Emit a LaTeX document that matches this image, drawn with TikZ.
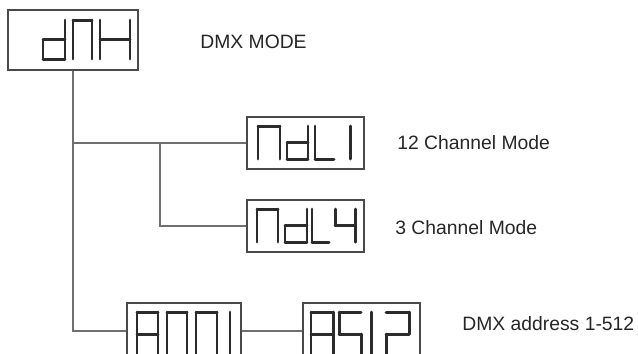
\documentclass[tikz,border=0pt]{standalone}
\usepackage{fontspec}
\setmainfont{Liberation Sans}

\definecolor{linegray}{HTML}{707070}
\definecolor{boxgray}{HTML}{4A4A4A}
\definecolor{segdark}{HTML}{2B2B2B}

% seven segment display glyph: x, top y, width, height, segments
\newcommand{\lcdglyph}[5]{%
    \def\gx{#1}\def\gt{#2}\def\gw{#3}\def\gh{#4}%
    \foreach \s in {#5}{\csname lcdseg\s\endcsname}%
}
\newcommand{\lcdsega}{\draw[seg] (\gx,\gt) -- ++(\gw,0);}
\newcommand{\lcdsegb}{\draw[seg] (\gx+\gw,\gt) -- ++(0,\gh/2);}
\newcommand{\lcdsegc}{\draw[seg] (\gx+\gw,\gt+\gh/2) -- ++(0,\gh/2);}
\newcommand{\lcdsegd}{\draw[seg] (\gx,\gt+\gh) -- ++(\gw,0);}
\newcommand{\lcdsege}{\draw[seg] (\gx,\gt+\gh/2) -- ++(0,\gh/2);}
\newcommand{\lcdsegf}{\draw[seg] (\gx,\gt) -- ++(0,\gh/2);}
\newcommand{\lcdsegg}{\draw[seg] (\gx,\gt+\gh/2) -- ++(\gw,0);}

\begin{document}
\begin{tikzpicture}[
    x=0.02cm,
    y=-0.02cm,
    lcd/.style={
        rectangle,
        draw=boxgray,
        line width=1pt,
        inner sep=0pt
    },
    seg/.style={
        draw=segdark,
        line width=1.7pt,
        line cap=round
    },
    note/.style={
        anchor=west,
        inner sep=0pt,
        text=black!85,
        font=\fontsize{11}{13}\selectfont
    },
    link/.style={
        draw=linegray,
        line width=0.7pt
    }
]
\useasboundingbox (0,0) rectangle (638,353);

\node[lcd, minimum width=2.6cm, minimum height=1.2cm] (mode) at (73,40) {};
\node[lcd, minimum width=2.34cm, minimum height=1.04cm] (ch12) at (305.5,143) {};
\node[lcd, minimum width=2.34cm, minimum height=1.04cm] (ch3) at (305.5,226) {};
\node[lcd, minimum width=2.28cm, minimum height=1.12cm] (addr1) at (184,331) {};
\node[lcd, minimum width=2.34cm, minimum height=1.12cm] (addr2) at (361.5,331) {};

% dNH
\lcdglyph{43}{20}{22}{39}{b,c,d,e,g}
\lcdglyph{73}{20}{19}{39}{a,b,c,e,f}
\lcdglyph{100}{20}{30}{39}{b,c,e,f,g}

% NdL1
\lcdglyph{258}{126}{22}{33}{a,b,c,e,f}
\lcdglyph{287}{126}{21}{33}{b,c,d,e,g}
\lcdglyph{315}{126}{19}{33}{d,e,f}
\lcdglyph{350}{126}{0}{33}{b,c}

% NdL4
\lcdglyph{257}{209}{21}{33}{a,b,c,e,f}
\lcdglyph{285}{209}{22}{33}{b,c,d,e,g}
\lcdglyph{312}{209}{17}{33}{d,e,f}
\lcdglyph{335}{209}{20}{33}{b,c,f,g}

% A001
\lcdglyph{137}{312}{21}{44}{a,b,c,e,f,g}
\lcdglyph{167}{312}{20}{44}{a,b,c,d,e,f}
\lcdglyph{196}{312}{21}{44}{a,b,c,d,e,f}
\lcdglyph{230}{312}{0}{44}{b,c}

% A512
\lcdglyph{311}{312}{22}{44}{a,b,c,e,f,g}
\lcdglyph{339}{312}{22}{44}{a,f,g,c,d}
\lcdglyph{371}{312}{0}{44}{b,c}
\lcdglyph{386}{312}{23}{44}{a,b,g,e,d}

\coordinate (sub) at (160,0 |- ch12.west);

\draw[link] (mode.south) |- (ch12.west);
\draw[link] (mode.south) |- (addr1.west);
\draw[link] (sub) |- (ch3.west);
\draw[link] (addr1) -- (addr2);

\node[note] (modetxt) at (200,42) {DMX MODE};
\node[note] (ch12txt) at (397,143) {12 Channel Mode};
\node[note] (ch3txt) at (395,228) {3 Channel Mode};
\node[note] (addrtxt) at (462,324) {DMX address 1-512};

\end{tikzpicture}
\end{document}
